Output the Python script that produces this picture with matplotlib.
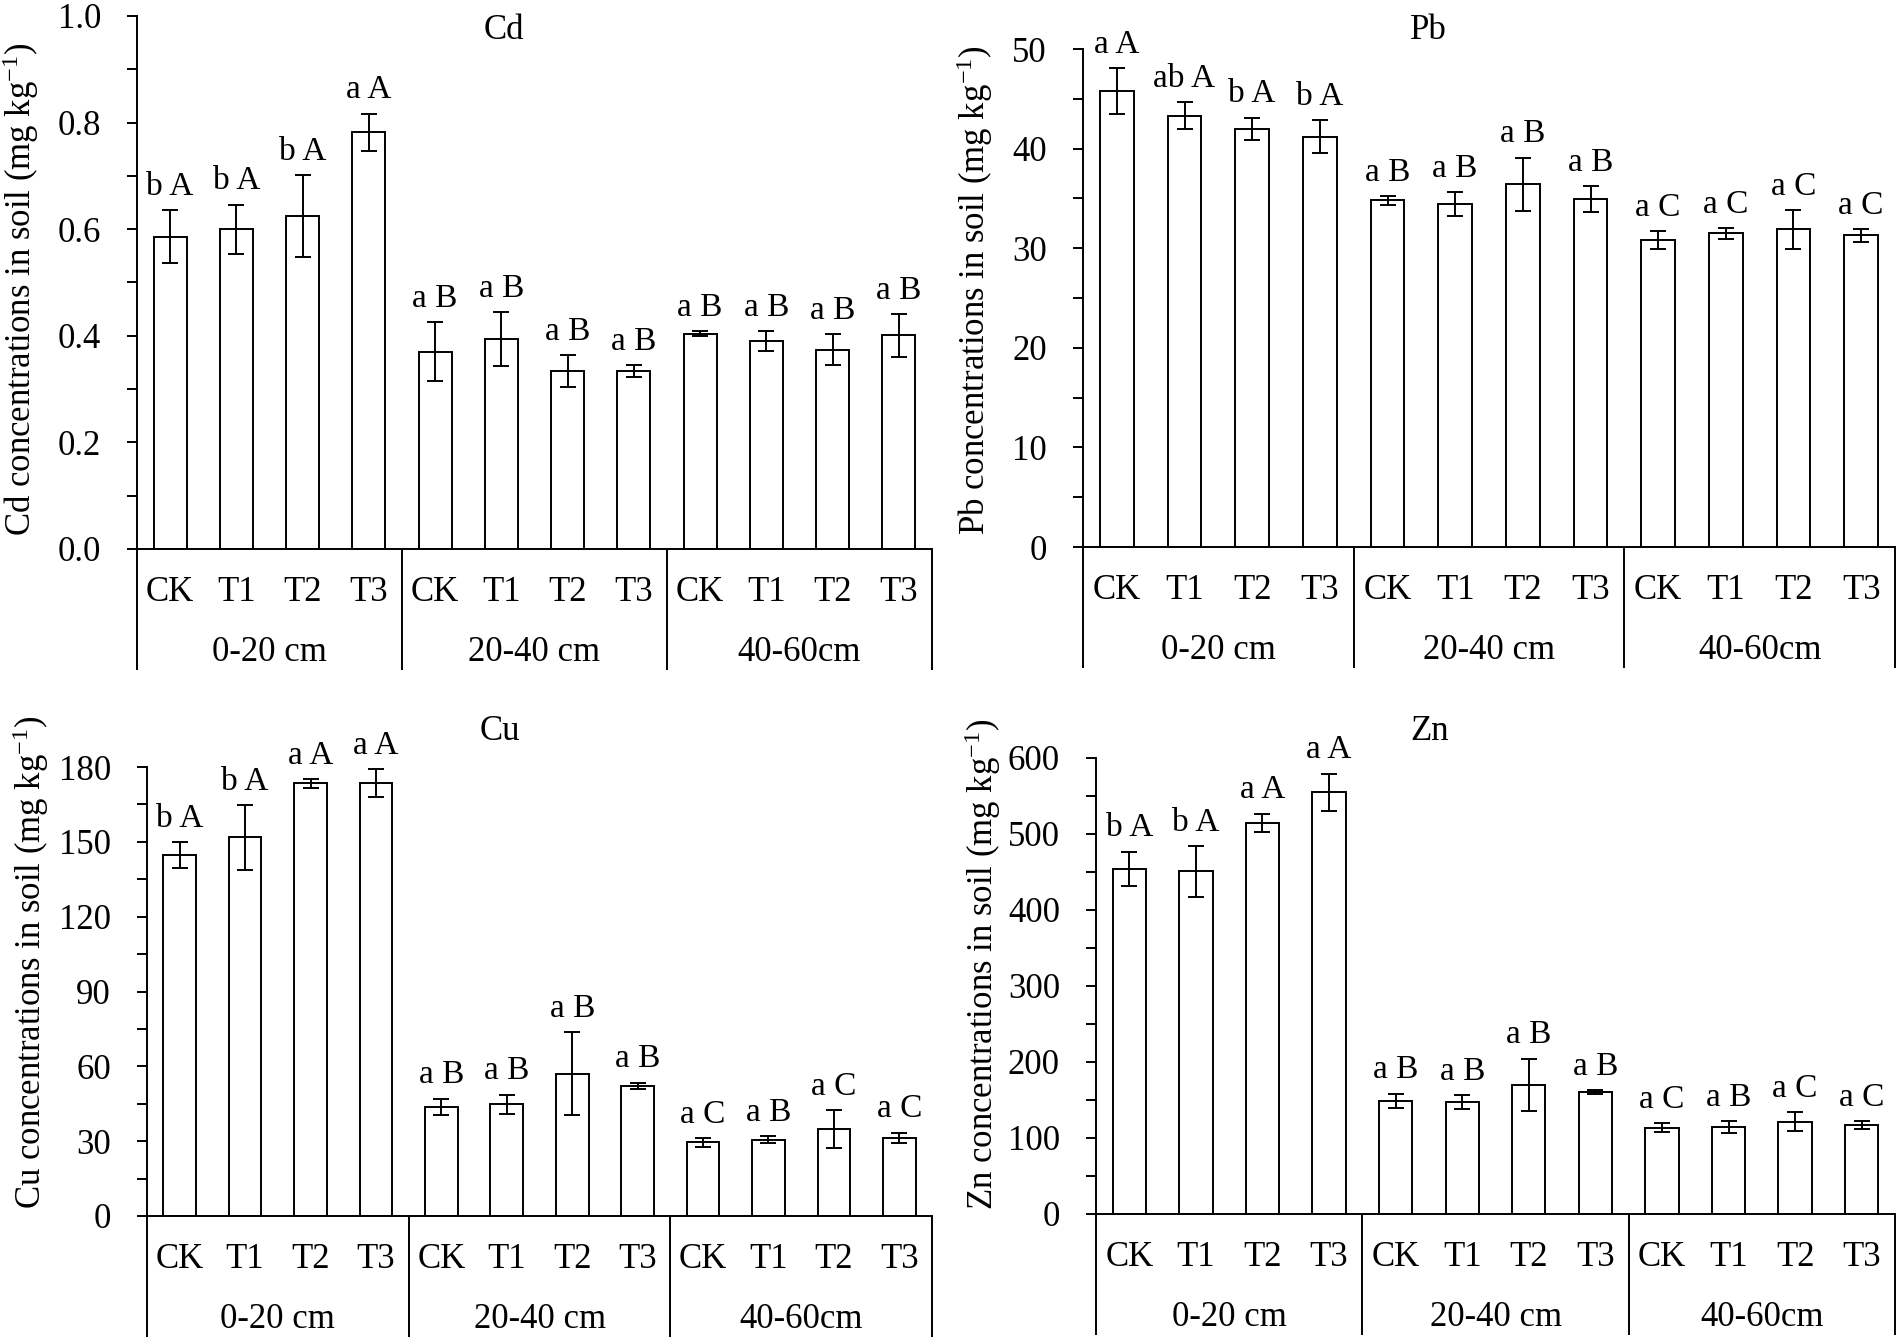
import matplotlib
matplotlib.use('Agg')
import matplotlib.pyplot as plt
from matplotlib.ticker import MultipleLocator, FormatStrFormatter
from matplotlib.transforms import blended_transform_factory

plt.rcParams['font.family'] = ['Liberation Serif', 'DejaVu Serif']
plt.rcParams['mathtext.fontset'] = 'custom'
plt.rcParams['mathtext.rm'] = 'Liberation Serif'
plt.rcParams['mathtext.it'] = 'Liberation Serif:italic'
plt.rcParams['mathtext.default'] = 'regular'

# ---------------- data ----------------
treatments = ["CK", "T1", "T2", "T3"]
depths = ["0-20 cm", "20-40 cm", "40-60cm"]

cd_mean = [0.586, 0.600, 0.624, 0.782, 0.370, 0.394, 0.334, 0.334, 0.404, 0.390, 0.374, 0.401]
cd_err = [0.050, 0.046, 0.077, 0.035, 0.055, 0.051, 0.030, 0.011, 0.005, 0.019, 0.029, 0.040]
cd_letters = ["b A", "b A", "b A", "a A", "a B", "a B", "a B", "a B", "a B", "a B", "a B", "a B"]

pb_mean = [45.8, 43.3, 42.0, 41.2, 34.8, 34.4, 36.4, 34.9, 30.8, 31.5, 31.9, 31.3]
pb_err = [2.3, 1.35, 1.1, 1.65, 0.45, 1.2, 2.7, 1.3, 0.9, 0.55, 1.95, 0.65]
pb_letters = ["a A", "ab A", "b A", "b A", "a B", "a B", "a B", "a B", "a C", "a C", "a C", "a C"]

cu_mean = [144.7, 151.8, 173.4, 173.4, 43.8, 44.8, 57.1, 52.3, 29.5, 30.6, 34.8, 31.4]
cu_err = [5.2, 13.0, 1.7, 5.6, 3.2, 3.9, 16.5, 1.2, 1.8, 1.5, 7.6, 2.0]
cu_letters = ["b A", "b A", "a A", "a A", "a B", "a B", "a B", "a B", "a C", "a B", "a C", "a C"]

zn_mean = [454.4, 451.0, 514.8, 555.0, 148.9, 147.2, 169.9, 160.5, 113.5, 114.6, 121.2, 116.8]
zn_err = [22.5, 33.5, 12.0, 24.5, 9.4, 9.0, 34.6, 2.5, 5.8, 7.7, 12.4, 5.5]
zn_letters = ["b A", "b A", "a A", "a A", "a B", "a B", "a B", "a B", "a C", "a B", "a C", "a C"]

# ---------------- figure ----------------
W, H = 1902, 1344
fig = plt.figure(figsize=(W / 100, H / 100), dpi=100)
FS = 25
LW = 1.4


def panel(name, mean, err, letters, ymax, major, fmt,
          x0, x1, ytop, ybot, title_x, title_y, ylab_x, ylab_y):
    axh = ybot - ytop
    ax = fig.add_axes([x0 / W, 1 - ybot / H, (x1 - x0) / W, axh / H])
    n = len(mean)
    xs = list(range(n))
    ax.bar(xs, mean, width=0.5, color='white', edgecolor='black',
           linewidth=LW, zorder=2)
    ax.errorbar(xs, mean, yerr=err, fmt='none', ecolor='black',
                elinewidth=LW, capsize=6, capthick=LW, zorder=3)
    for x, m, e, lab in zip(xs, mean, err, letters):
        ax.annotate(lab, xy=(x, m + e), xytext=(0, 11), textcoords='offset points',
                    ha='center', va='baseline', fontsize=FS - 1)
    ax.set_xlim(-0.5, n - 0.5)
    ax.set_ylim(0, ymax)
    ax.spines['top'].set_visible(False)
    ax.spines['right'].set_visible(False)
    for s in ('left', 'bottom'):
        ax.spines[s].set_linewidth(LW)
    ax.yaxis.set_major_locator(MultipleLocator(major))
    ax.yaxis.set_minor_locator(MultipleLocator(major / 2))
    ax.yaxis.set_major_formatter(FormatStrFormatter(fmt))
    ax.tick_params(axis='y', which='both', direction='out', length=7,
                   width=LW, labelsize=FS, pad=19)
    ax.tick_params(axis='x', which='both', length=0, labelbottom=False)

    tr = blended_transform_factory(ax.transData, ax.transAxes)
    # group dividers
    ybottom = -121 / axh
    for xd in [-0.5, 3.5, 7.5, 11.5]:
        ax.plot([xd, xd], [0, ybottom], color='black', lw=LW, transform=tr,
                clip_on=False, solid_capstyle='butt')
    # category labels
    labels = treatments * len(depths)
    for x, lab in zip(xs, labels):
        ax.text(x, -52 / axh, lab, transform=tr, ha='center', va='baseline',
                fontsize=FS)
    for i, d in enumerate(depths):
        ax.text(i * 4 + 1.5, -112 / axh, d, transform=tr, ha='center',
                va='baseline', fontsize=FS)
    # title and y label
    fig.text(title_x / W, 1 - title_y / H, name, ha='center', va='baseline',
             fontsize=FS)
    fig.text(ylab_x / W, 1 - ylab_y / H,
             name + ' concentrations in soil (mg kg$^{-1}$)',
             rotation=90, ha='center', va='center', fontsize=FS)
    return ax


panel('Cd', cd_mean, cd_err, cd_letters, 1.0, 0.2, '%.1f',
      137, 932, 16, 549, 504, 39, 21, 289)
panel('Pb', pb_mean, pb_err, pb_letters, 50, 10, '%d',
      1083, 1895, 49, 547, 1428, 39, 975, 290)
panel('Cu', cu_mean, cu_err, cu_letters, 180, 30, '%d',
      147, 932, 767, 1216, 500, 740, 31, 962)
panel('Zn', zn_mean, zn_err, zn_letters, 600, 100, '%d',
      1096, 1895, 758, 1214, 1430, 740, 983, 964)

fig.savefig('out.png', dpi=100, facecolor='white')
